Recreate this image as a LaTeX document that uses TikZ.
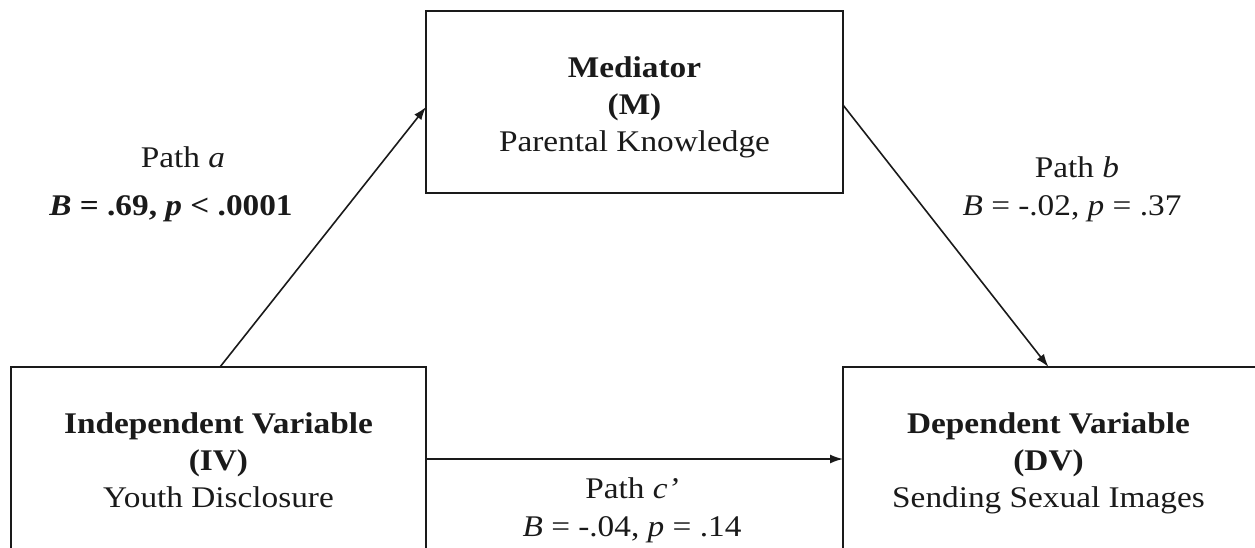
\documentclass[tikz,border=0pt]{standalone}
\usepackage{fontspec}
\setmainfont[FakeStretch=1.11]{Liberation Serif}
\usetikzlibrary{arrows.meta}
\definecolor{ink}{HTML}{1A1A1A}
\begin{document}
\begin{tikzpicture}[x=1pt,y=-1pt]
\tikzset{
  varbox/.style={draw=ink, line width=2pt, inner sep=0pt, outer sep=0pt, minimum height=184pt},
  txt/.style={anchor=base, inner sep=0pt, text=ink, font=\fontsize{30}{37}\selectfont},
  arr/.style={draw=ink, line width=1.6pt, -{Latex[length=13pt,width=9pt]}}
}
\useasboundingbox (0,0) rectangle (1255,548);
\clip (0,0) rectangle (1255,548);
% boxes
\node[varbox, minimum width=417pt, minimum height=182pt] (med) at (634.5,102) {};
\node[varbox, minimum width=415pt] (iv) at (218.5,459) {};
\node[varbox, minimum width=420pt] (dv) at (1053,459) {};
% mediator text
\node[txt] (med1) at (634.5,78) {\textbf{Mediator}};
\node[txt] (med2) at (634.5,115) {\textbf{(M)}};
\node[txt] (med3) at (634.5,152) {Parental Knowledge};
% IV text
\node[txt] (iv1) at (218.5,433) {\textbf{Independent Variable}};
\node[txt] (iv2) at (218.5,470) {\textbf{(IV)}};
\node[txt] (iv3) at (218.5,507) {Youth Disclosure};
% DV text
\node[txt] (dv1) at (1048.5,433) {\textbf{Dependent Variable}};
\node[txt] (dv2) at (1048.5,470) {\textbf{(DV)}};
\node[txt] (dv3) at (1048.5,507) {Sending Sexual Images};
% connectors
\draw[arr] ([xshift=1.5pt]iv.north) -- ([yshift=-5pt]med.west);
\draw[arr] ([yshift=-3pt]med.east) -- ([xshift=-4.5pt]dv.north);
\draw[arr] (iv.east) -- (dv.west);
% path labels
\node[txt] (pa1) at (183,168) {Path \textit{a}};
\node[txt] (pa2) at (171,215) {\textbf{\textit{B} = .69, \textit{p} < .0001}};
\node[txt] (pb1) at (1077,178) {Path \textit{b}};
\node[txt] (pb2) at (1072,215) {\textit{B} = -.02, \textit{p} = .37};
\node[txt] (pc1) at (632,498) {Path \textit{c’}};
\node[txt] (pc2) at (632,536) {\textit{B} = -.04, \textit{p} = .14};
\end{tikzpicture}
\end{document}
